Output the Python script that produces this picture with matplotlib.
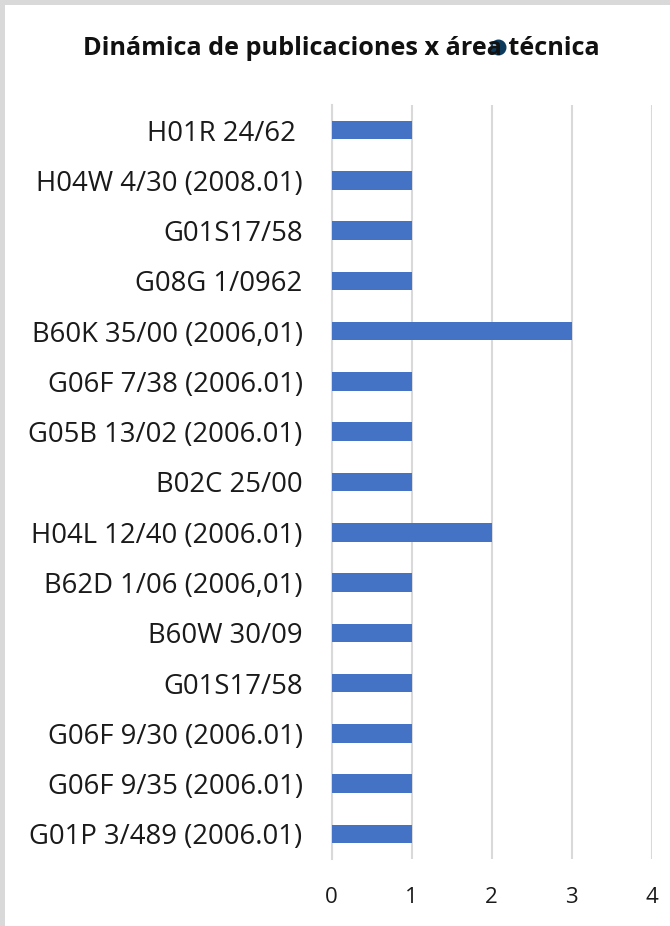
import matplotlib
matplotlib.use("Agg")
import matplotlib.pyplot as plt
from matplotlib.patches import Rectangle

categories = [
    "H01R 24/62 ",
    "H04W 4/30 (2008.01)",
    "G01S17/58",
    "G08G 1/0962",
    "B60K 35/00 (2006,01)",
    "G06F 7/38 (2006.01)",
    "G05B 13/02 (2006.01)",
    "B02C 25/00",
    "H04L 12/40 (2006.01)",
    "B62D 1/06 (2006,01)",
    "B60W 30/09",
    "G01S17/58",
    "G06F 9/30 (2006.01)",
    "G06F 9/35 (2006.01)",
    "G01P 3/489 (2006.01)",
]
values = [1, 1, 1, 1, 3, 1, 1, 1, 2, 1, 1, 1, 1, 1, 1]
x_ticks = [0, 1, 2, 3, 4]
title = "Dinámica de publicaciones x área técnica"

FONT = ["Open Sans", "DejaVu Sans"]

W, H = 670, 926
fig = plt.figure(figsize=(W / 100, H / 100), dpi=100)
fig.patch.set_facecolor("#d9d9d9")
# white chart area
fig.patches.append(Rectangle((5 / W, 0), 1, 1 - 5 / H, transform=fig.transFigure,
                             facecolor="white", edgecolor="none", zorder=-5))

ax = fig.add_axes([331.7 / W, 1 - 859 / H, 320 / W, 754 / H])
ax.set_facecolor("white")
pos = list(range(len(categories)))
ax.barh(pos, values, height=0.37, color="#4472C4", zorder=3)
ax.set_ylim(len(categories) - 0.5, -0.5)
ax.set_xlim(0, 4)
ax.set_xticks(x_ticks)
ax.set_xticklabels([str(t) for t in x_ticks], fontsize=16, family=FONT, color="#1a1a1a")
ax.set_yticks(pos)
ax.set_yticklabels(categories, fontsize=19.8, family=FONT, color="#1a1a1a")
ax.tick_params(axis="y", length=0, pad=21)
ax.tick_params(axis="x", length=0, pad=20)
ax.grid(axis="x", color="#d9d9d9", linewidth=1.5, zorder=0)
for s in ["top", "right", "bottom"]:
    ax.spines[s].set_visible(False)
ax.spines["left"].set_color("#d9d9d9")
ax.spines["left"].set_linewidth(1.5)

fig.text(341.5 / W, 1 - 55 / H, title, ha="center", va="baseline", fontsize=18.2,
         fontweight="bold", family=FONT, color="#111111")
ax_dot = fig.add_axes([0, 0, 1, 1], facecolor="none")
ax_dot.set_xlim(0, W)
ax_dot.set_ylim(H, 0)
ax_dot.axis("off")
ax_dot.scatter([498], [47], s=110, color="#0b3a5c", zorder=5)
ax_dot.scatter([495], [44], s=8, color="#8fb0c8", zorder=6)

fig.savefig("out.png", dpi=100)
